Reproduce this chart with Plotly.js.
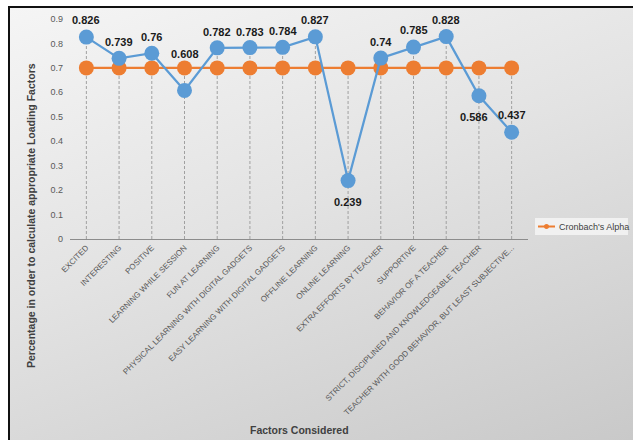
<!DOCTYPE html>
<html>
<head>
<meta charset="utf-8">
<script src="https://cdn.plot.ly/plotly-3.0.1.min.js"></script>
<style>
  html, body { margin: 0; padding: 0; background: #ffffff; }
  #wrap { position: relative; width: 633px; height: 440px; overflow: hidden; }
  #bg { position: absolute; left: 8px; top: 6px; width: 625px; height: 434px;
        border-left: 2px solid #111; border-top: 2px solid #111; box-sizing: border-box;
        background: linear-gradient(160deg, #f5f5f5 0%, #e3e3e3 45%, #c9c9c9 100%); }
  #chart { position: absolute; left: 0; top: 0; width: 633px; height: 440px; }
</style>
</head>
<body>
<div id="wrap">
  <div id="bg"></div>
  <div id="chart"></div>
</div>
<script>
const categories = [
  "EXCITED", "INTERESTING", "POSITIVE", "LEARNING WHILE SESSION", "FUN AT LEARNING",
  "PHYSICAL LEARNING WITH DIGITAL GADGETS", "EASY LEARNING WITH DIGITAL GADGETS",
  "OFFLINE LEARNING", "ONLINE LEARNING", "EXTRA EFFORTS BY TEACHER", "SUPPORTIVE",
  "BEHAVIOR OF A TEACHER", "STRICT, DISCIPLINED AND KNOWLEDGEABLE TEACHER",
  "TEACHER WITH GOOD BEHAVIOR, BUT LEAST SUBJECTIVE..."
];
const loadingFactors = [0.826, 0.739, 0.76, 0.608, 0.782, 0.783, 0.784, 0.827, 0.239, 0.74, 0.785, 0.828, 0.586, 0.437];
const cronbachAlpha = [0.7, 0.7, 0.7, 0.7, 0.7, 0.7, 0.7, 0.7, 0.7, 0.7, 0.7, 0.7, 0.7, 0.7];
const seriesName = "Cronbach's Alpha";
const labelYShift = [17, 16, 16, 36, 16, 16, 16, 17, -21, 16, 17, 17, -21, 17];
const labelXShift = [0, 0, 0, 0, 0, 0, 0, 0, 0, 0, 0, 0, -5, 0];
const yTickVals = [0, 0.1, 0.2, 0.3, 0.4, 0.5, 0.6, 0.7, 0.8, 0.9];

// drop lines from the highest point of each category down to the axis
const dropX = [], dropY = [];
categories.forEach((c, i) => {
  dropX.push(c, c, null);
  dropY.push(0, Math.max(loadingFactors[i], cronbachAlpha[i]), null);
});

const ORANGE = "#ED7D31", BLUE = "#5B9BD5";

const traces = [
  {
    x: dropX, y: dropY, type: "scatter", mode: "lines",
    line: { color: "#a0a0a0", width: 1, dash: "3px,2px" },
    showlegend: false, hoverinfo: "skip"
  },
  {
    x: categories, y: cronbachAlpha, type: "scatter", mode: "lines+markers",
    name: seriesName,
    line: { color: ORANGE, width: 2.25 },
    marker: { color: ORANGE, size: 15 },
    showlegend: false, cliponaxis: false
  },
  {
    x: categories, y: loadingFactors, type: "scatter", mode: "lines+markers",
    name: "Loading Factors",
    line: { color: BLUE, width: 2.25 },
    marker: { color: BLUE, size: 15 },
    showlegend: false, cliponaxis: false
  }
];

const annotations = loadingFactors.map((v, i) => ({
  x: categories[i], y: v, xref: "x", yref: "y",
  text: String(v), showarrow: false,
  yshift: labelYShift[i], xshift: labelXShift[i],
  font: { family: "Liberation Sans, Arial, sans-serif", size: 11, color: "#1a1a1a", weight: "bold" }
}));
annotations.push({
  xref: "paper", yref: "paper", x: -0.085, y: 0.105, xanchor: "center", yanchor: "middle",
  textangle: -90,
  text: "Percentage in order to calculate appropriate Loading Factors", showarrow: false,
  font: { family: "Liberation Sans, Arial, sans-serif", size: 10.5, color: "#404040", weight: "bold" }
});
annotations.push({
  xref: "paper", yref: "paper", x: 0.502, y: -0.868, xanchor: "center", yanchor: "middle",
  text: "Factors Considered", showarrow: false,
  font: { family: "Liberation Sans, Arial, sans-serif", size: 10.5, color: "#404040", weight: "bold" }
});
// legend label
annotations.push({
  xref: "paper", yref: "paper", x: 1.0633, y: 0.0568, xanchor: "left", yanchor: "middle",
  text: seriesName, showarrow: false,
  font: { family: "Liberation Sans, Arial, sans-serif", size: 9, color: "#404040" }
});

const shapes = [
  { type: "rect", xref: "paper", yref: "paper", x0: 1.0153, x1: 1.2183, y0: 0.0182, y1: 0.0955,
    fillcolor: "rgba(243,243,243,0.9)", line: { width: 0 }, layer: "below" },
  { type: "line", xref: "paper", yref: "paper", x0: 1.0218, x1: 1.059, y0: 0.0568, y1: 0.0568,
    line: { color: ORANGE, width: 2 } },
  { type: "circle", xref: "paper", yref: "paper", x0: 1.0349, x1: 1.0459, y0: 0.0455, y1: 0.0682,
    fillcolor: ORANGE, line: { color: ORANGE, width: 0 } }
];

const layout = {
  width: 633, height: 440,
  margin: { l: 70, r: 105, t: 19, b: 201 },
  paper_bgcolor: "rgba(0,0,0,0)",
  plot_bgcolor: "rgba(0,0,0,0)",
  font: { family: "Liberation Sans, Arial, sans-serif", color: "#595959" },
  xaxis: {
    type: "category",
    range: [-0.5, 13.5],
    tickangle: -45,
    tickfont: { family: "Liberation Sans Narrow, Arial Narrow, Liberation Sans, sans-serif", size: 8, color: "#595959" },
    showgrid: false,
    showline: true, linecolor: "#8c8c8c", linewidth: 1,
    ticks: "", zeroline: false,
    automargin: false
  },
  yaxis: {
    range: [0, 0.9],
    tickvals: yTickVals,
    ticktext: yTickVals.map(v => v === 0 ? "0" : v.toFixed(1)),
    tickfont: { size: 9, color: "#595959" },
    ticklabelstandoff: 6,
    showgrid: false, zeroline: false, showline: false, ticks: "",
    automargin: false
  },
  annotations: annotations,
  shapes: shapes,
  showlegend: false
};

Plotly.newPlot("chart", traces, layout, { displayModeBar: false, staticPlot: true });
</script>
</body>
</html>
